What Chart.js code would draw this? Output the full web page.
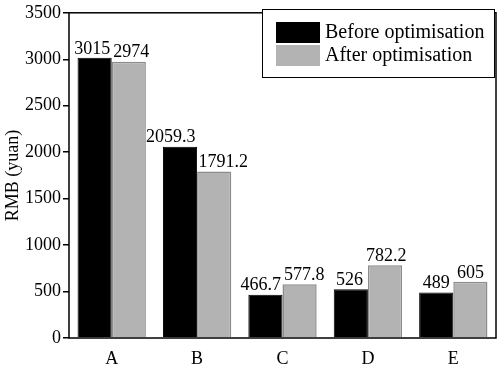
<!DOCTYPE html>
<html>
<head>
<meta charset="utf-8">
<script src="https://cdn.jsdelivr.net/npm/chart.js@4"></script>
<style>
  html, body { margin: 0; padding: 0; background: #fff; }
  #wrap { width: 498px; height: 371px; }
</style>
</head>
<body>
<div id="wrap"><canvas id="barchart"></canvas></div>
<script>
const categories = ['A', 'B', 'C', 'D', 'E'];
const beforeValues = [3015, 2059.3, 466.7, 526, 489];
const afterValues = [2974, 1791.2, 577.8, 782.2, 605];
const beforeLabels = ['3015', '2059.3', '466.7', '526', '489'];
const afterLabels = ['2974', '1791.2', '577.8', '782.2', '605'];
const seriesNames = ['Before optimisation', 'After optimisation'];
const yTicks = [0, 500, 1000, 1500, 2000, 2500, 3000, 3500];

const FONT = '"Liberation Serif", "Times New Roman", serif';

// frame, value labels and legend box
const extras = {
  id: 'extras',
  afterDatasetsDraw(chart) {
    const ctx = chart.ctx;
    const a = chart.chartArea;
    ctx.save();
    ctx.font = '18px ' + FONT;
    ctx.fillStyle = '#000';
    ctx.textAlign = 'center';
    ctx.textBaseline = 'bottom';
    const barsB = chart.getDatasetMeta(0).data;
    const barsA = chart.getDatasetMeta(1).data;
    categories.forEach((c, j) => {
      const b = barsB[j], f = barsA[j];
      const wb = ctx.measureText(beforeLabels[j]).width;
      const wa = ctx.measureText(afterLabels[j]).width;
      // push the two labels apart when they would touch
      const need = 3 - ((f.x - wa / 2) - (b.x + wb / 2));
      const shift = need > 0 ? need / 2 : 0;
      ctx.fillText(beforeLabels[j], b.x - shift, b.y);
      ctx.fillText(afterLabels[j], f.x + shift, f.y);
    });

    ctx.strokeStyle = '#000';
    ctx.lineWidth = 1.5;
    ctx.strokeRect(a.left, a.top, a.right - a.left, a.bottom - a.top);

    // legend
    const lx = 262, ly = 9, lw = 232, lh = 68;
    ctx.fillStyle = '#fff';
    ctx.fillRect(lx, ly, lw, lh);
    ctx.lineWidth = 1;
    ctx.strokeRect(lx + 0.5, ly + 0.5, lw, lh);
    const colors = ['#000000', '#b3b3b3'];
    ctx.font = '20px ' + FONT;
    ctx.textAlign = 'left';
    ctx.textBaseline = 'middle';
    seriesNames.forEach((name, i) => {
      const y = 22 + i * 23;
      ctx.fillStyle = colors[i];
      ctx.fillRect(276, y, 44, 21);
      ctx.fillStyle = '#000';
      ctx.fillText(name, 325, y + 11);
    });
    ctx.restore();
  }
};

new Chart(
  document.getElementById('barchart'),
  {
    type: 'bar',
    data: {
      labels: categories,
      datasets: [{
        label: seriesNames[0],
        data: beforeValues,
        backgroundColor: '#000000',
        borderColor: '#000000',
        borderWidth: 1
      }, {
        label: seriesNames[1],
        data: afterValues,
        backgroundColor: '#b3b3b3',
        borderColor: '#8c8c8c',
        borderWidth: 1.5
      }]
    },
    options: {
      responsive: true,
      maintainAspectRatio: false,
      animation: false,
      layout: { padding: { top: 9, right: 2, left: 2, bottom: 0 } },
      datasets: { bar: { barPercentage: 1, categoryPercentage: 0.8 } },
      plugins: {
        legend: { display: false },
        tooltip: { enabled: false }
      },
      scales: {
        x: {
          grid: { display: false, drawTicks: false },
          border: { display: false },
          ticks: { color: '#000', font: { family: FONT, size: 18 }, padding: 10 },
          afterFit(scale) { scale.height = 33; }
        },
        y: {
          min: 0,
          max: 3500,
          afterBuildTicks(scale) { scale.ticks = yTicks.map(v => ({ value: v })); },
          grid: { drawOnChartArea: false, tickLength: 6, color: '#000', lineWidth: 1.5 },
          border: { display: false },
          ticks: {
            color: '#000',
            font: { family: FONT, size: 18 },
            padding: 2,
            callback: v => String(v)
          },
          title: { display: true, text: 'RMB (yuan)', color: '#000', font: { family: FONT, size: 18 }, padding: 0 },
          afterFit(scale) { scale.width = 67; }
        }
      }
    },
    plugins: [extras]
  }
);
</script>
</body>
</html>
